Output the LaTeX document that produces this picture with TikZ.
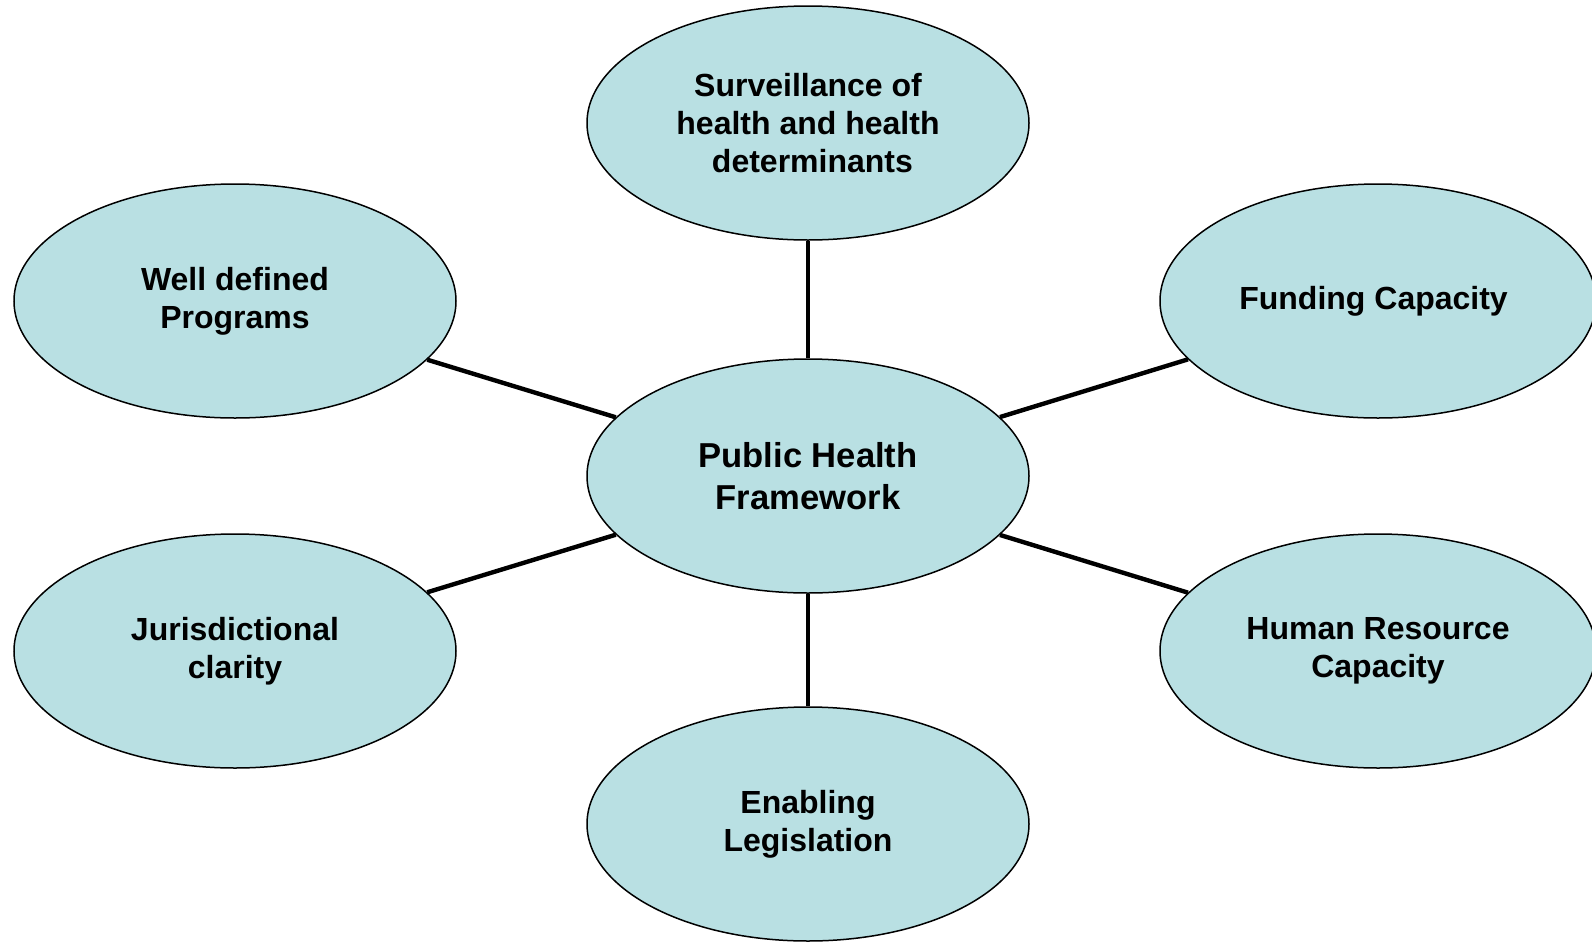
\documentclass[tikz,border=0pt]{standalone}
\usepackage{fontspec}
\setmainfont{Liberation Sans}
\usetikzlibrary{positioning, shapes.geometric}

\definecolor{bubblefill}{RGB}{185,224,227}

\tikzset{
  bubble/.style={ellipse, draw=black, line width=0.75pt, fill=bubblefill,
    minimum width=221pt, minimum height=117pt, inner sep=0pt, align=center,
    font=\fontsize{16}{19}\selectfont\bfseries},
  hub/.style={bubble, font=\fontsize{17.3}{21}\selectfont\bfseries},
  spoke/.style={line width=2.2pt, black}
}

\begin{document}
\begin{tikzpicture}[x=0.5pt, y=-0.5pt]
      \useasboundingbox (0,0) rectangle (1592,943);

      \node [hub] (frame) at (808,476) { Public Health\\ Framework };

      \node [bubble] (surv) at (808,123) { Surveillance of\\ health and health\\ \ determinants };
      \node [bubble] (prog) at (235,301) { Well defined\\ Programs };
      \node [bubble, minimum width=218pt] (fund) at (1378,301) { Funding Capacity };
      \node [bubble] (juris) at (235,651) { Jurisdictional\\ clarity };
      \node [bubble, minimum width=218pt] (human) at (1378,651) { Human Resource\\ Capacity };
      \node [bubble] (legis) at (808,824) { Enabling\\ Legislation };

      % spokes from the hub
      \draw [spoke] (frame) -- (surv);
      \draw [spoke] (frame) -- (prog);
      \draw [spoke] (frame) -- (fund);
      \draw [spoke] (frame) -- (juris);
      \draw [spoke] (frame) -- (human);
      \draw [spoke] (frame) -- (legis);

\end{tikzpicture}
\end{document}
